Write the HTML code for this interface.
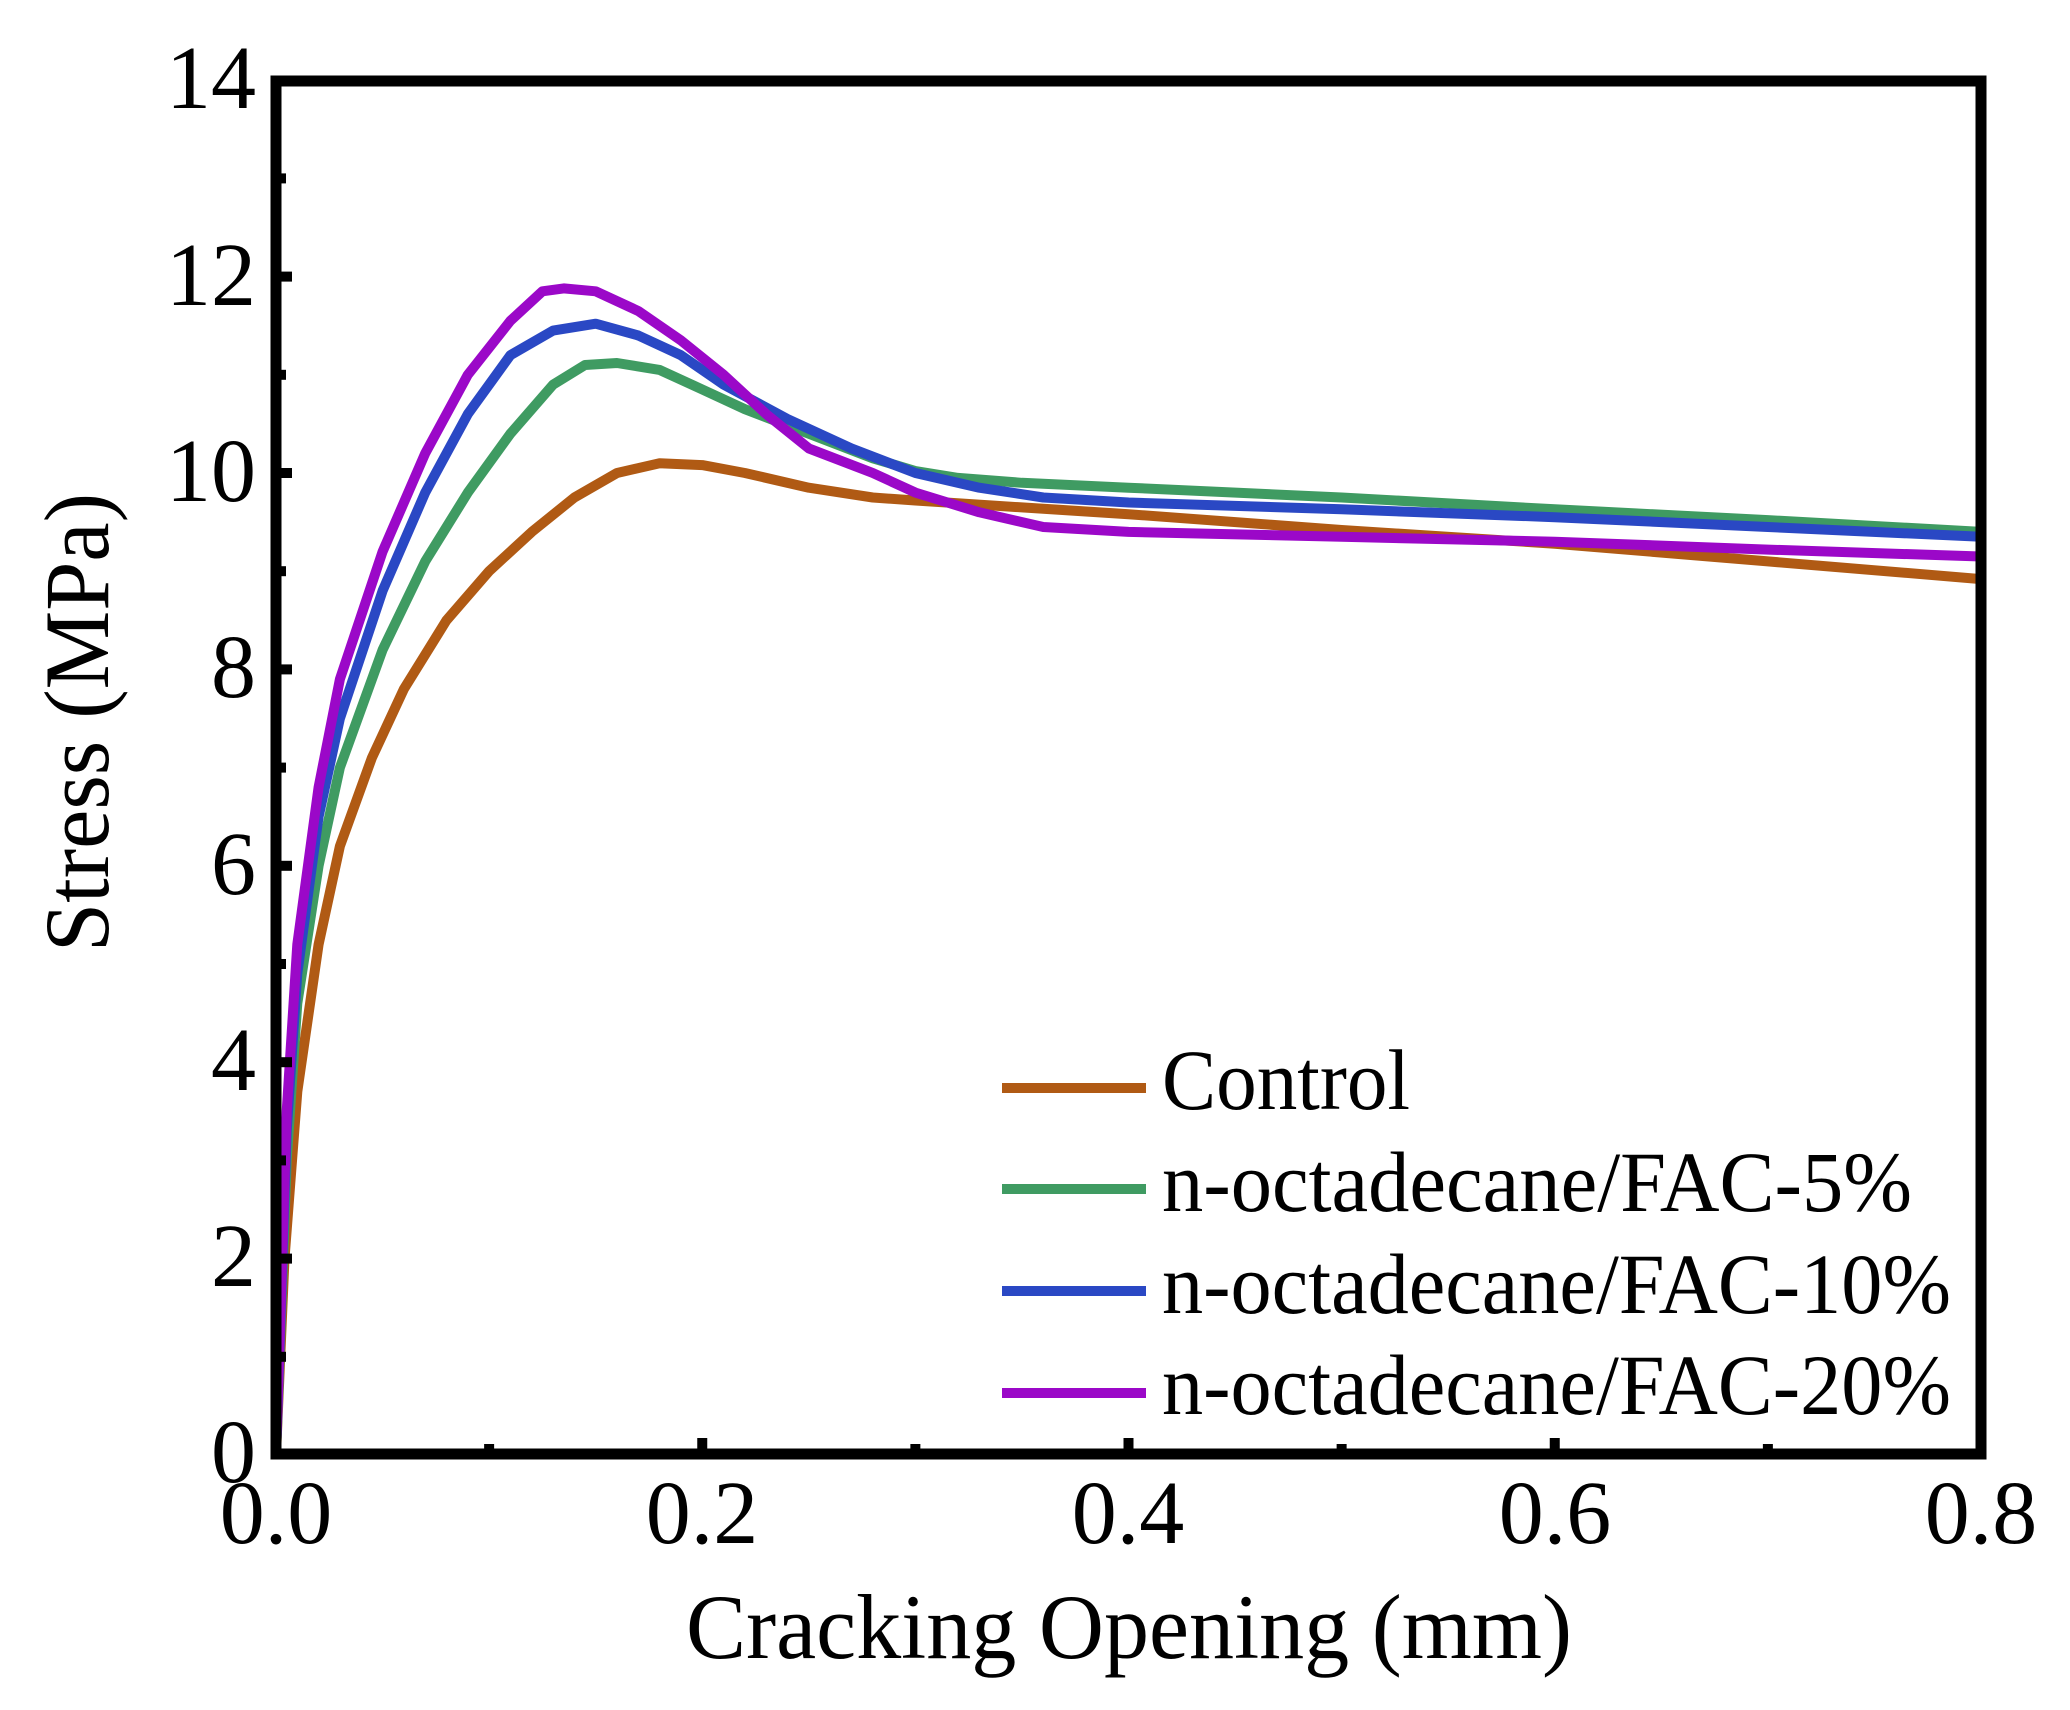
<!DOCTYPE html>
<html><head><meta charset="utf-8"><style>
html,body{margin:0;padding:0;background:#fff;}
svg{display:block;}
text{font-family:"Liberation Serif",serif;fill:#000;}
</style></head><body>
<svg id="s" width="2070" height="1710" viewBox="0 0 2070 1710" xmlns="http://www.w3.org/2000/svg">
<rect width="2070" height="1710" fill="#fff"/>
<g id="curves" fill="none" stroke-width="10" stroke-linejoin="round" stroke-linecap="butt"></g>
<g id="ticks" fill="#000"></g>
<rect x="276" y="81" width="1705" height="1373" fill="none" stroke="#000" stroke-width="11"/>
<g font-size="90" text-anchor="end">
<text x="256" y="108">14</text>
<text x="256" y="305">12</text>
<text x="256" y="501">10</text>
<text x="256" y="697">8</text>
<text x="256" y="894">6</text>
<text x="256" y="1090">4</text>
<text x="256" y="1286">2</text>
<text x="256" y="1482">0</text>
</g>
<g font-size="90" text-anchor="middle">
<text x="276" y="1543">0.0</text>
<text x="702" y="1543">0.2</text>
<text x="1128" y="1543">0.4</text>
<text x="1555" y="1543">0.6</text>
<text x="1981" y="1543">0.8</text>
</g>
<text x="686" y="1658" font-size="92" textLength="886" lengthAdjust="spacingAndGlyphs">Cracking Opening (mm)</text>
<text transform="translate(108,952) rotate(-90)" font-size="92" textLength="459" lengthAdjust="spacingAndGlyphs">Stress (MPa)</text>
<g stroke-width="10">
<line x1="1002" y1="1088" x2="1146" y2="1088" stroke="#B05A14"/>
<line x1="1002" y1="1189" x2="1146" y2="1189" stroke="#3F9B62"/>
<line x1="1002" y1="1291" x2="1146" y2="1291" stroke="#2A48C4"/>
<line x1="1002" y1="1393" x2="1146" y2="1393" stroke="#9B08C8"/>
</g>
<g font-size="86" lengthAdjust="spacingAndGlyphs">
<text x="1162" y="1109" textLength="248" lengthAdjust="spacingAndGlyphs">Control</text>
<text x="1162" y="1211" textLength="750" lengthAdjust="spacingAndGlyphs">n-octadecane/FAC-5%</text>
<text x="1162" y="1313" textLength="789" lengthAdjust="spacingAndGlyphs">n-octadecane/FAC-10%</text>
<text x="1162" y="1414" textLength="789" lengthAdjust="spacingAndGlyphs">n-octadecane/FAC-20%</text>
</g>
</svg>
<script>
var X=function(v){return 276+v*2131.25;},Y=function(v){return 1455-v*98.2;};
var data={
"#B05A14":[[0,0],[0.004,2],[0.01,3.7],[0.02,5.2],[0.03,6.2],[0.045,7.1],[0.06,7.8],[0.08,8.5],[0.1,9.0],[0.12,9.4],[0.14,9.75],[0.16,10.0],[0.18,10.1],[0.2,10.08],[0.22,10.0],[0.25,9.85],[0.28,9.75],[0.3,9.72],[0.35,9.65],[0.4,9.58],[0.5,9.42],[0.6,9.28],[0.7,9.1],[0.8,8.92]],
"#3F9B62":[[0,0],[0.005,3],[0.01,4.6],[0.02,6.0],[0.03,7.0],[0.05,8.2],[0.07,9.1],[0.09,9.8],[0.11,10.4],[0.13,10.9],[0.145,11.1],[0.16,11.12],[0.18,11.05],[0.2,10.85],[0.22,10.65],[0.25,10.4],[0.28,10.15],[0.3,10.02],[0.32,9.95],[0.35,9.9],[0.4,9.85],[0.5,9.75],[0.6,9.63],[0.7,9.52],[0.8,9.4]],
"#2A48C4":[[0,0],[0.005,3.3],[0.01,4.9],[0.02,6.5],[0.03,7.5],[0.05,8.8],[0.07,9.8],[0.09,10.6],[0.11,11.2],[0.13,11.45],[0.15,11.52],[0.17,11.4],[0.19,11.2],[0.21,10.9],[0.24,10.55],[0.27,10.25],[0.3,10.0],[0.33,9.85],[0.36,9.75],[0.4,9.7],[0.5,9.63],[0.6,9.55],[0.7,9.45],[0.8,9.35]],
"#9B08C8":[[0,0],[0.005,3.5],[0.01,5.2],[0.02,6.8],[0.03,7.9],[0.05,9.2],[0.07,10.2],[0.09,11.0],[0.11,11.55],[0.125,11.85],[0.135,11.88],[0.15,11.85],[0.17,11.65],[0.19,11.35],[0.21,11.0],[0.23,10.6],[0.25,10.25],[0.28,10.0],[0.3,9.8],[0.33,9.6],[0.36,9.45],[0.4,9.4],[0.5,9.35],[0.6,9.3],[0.7,9.22],[0.8,9.15]]};
var g=document.getElementById("curves"),ns="http://www.w3.org/2000/svg";
for(var c in data){var p=document.createElementNS(ns,"polyline");
p.setAttribute("points",data[c].map(function(d){return X(d[0]).toFixed(1)+","+Y(d[1]).toFixed(1);}).join(" "));
p.setAttribute("stroke",c);g.appendChild(p);}
var t=document.getElementById("ticks");
function r(x,y,w,h){var e=document.createElementNS(ns,"rect");e.setAttribute("x",x);e.setAttribute("y",y);e.setAttribute("width",w);e.setAttribute("height",h);t.appendChild(e);}
for(var i=1;i<14;i++){var y=Y(i);var L=(i%2==0)?16:10;r(276,y-5,L,10);}
for(var j=1;j<8;j++){var x=X(j*0.1);var L2=(j%2==0)?16:10;r(x-5,1454-L2,10,L2);}
</script>
</body></html>
